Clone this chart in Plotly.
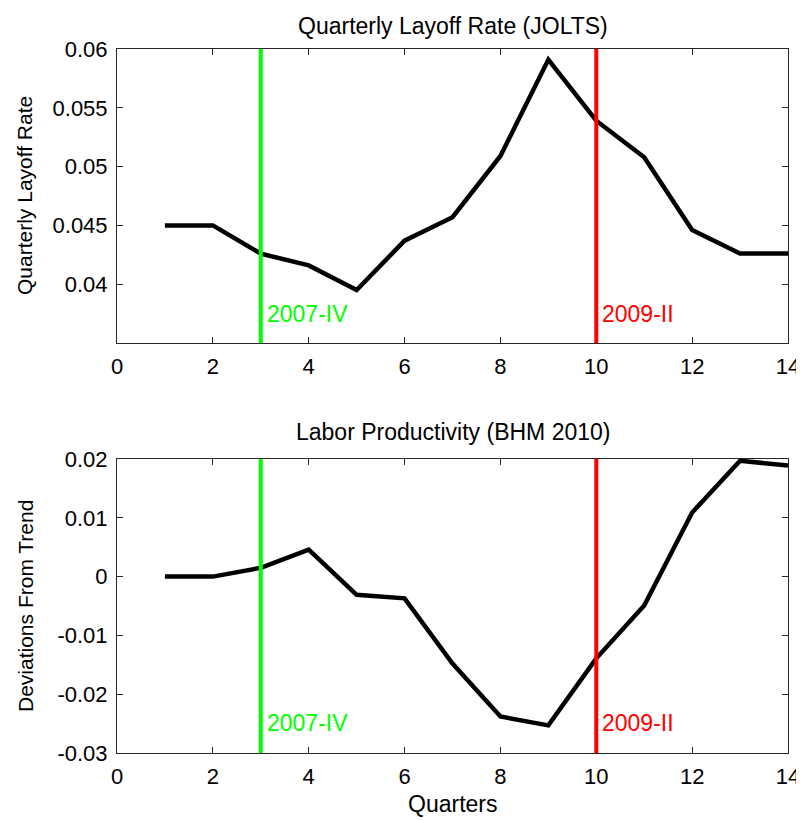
import plotly.graph_objects as go
from plotly.subplots import make_subplots

quarters = list(range(1, 15))
layoff_rate = [0.0450, 0.0450, 0.0426, 0.0416, 0.0395, 0.0437, 0.0457, 0.0509,
               0.0591, 0.0539, 0.0508, 0.0446, 0.0426, 0.0426]
productivity = [0.0000, 0.0000, 0.0015, 0.0046, -0.0031, -0.0037, -0.0148, -0.0238,
                -0.0253, -0.0139, -0.0049, 0.0109, 0.0197, 0.0189]

event_x = [3, 10]
event_labels = ["2007-IV", "2009-II"]
event_colors = ["#00FF00", "#FF0000"]

top_title = "Quarterly Layoff Rate (JOLTS)"
bottom_title = "Labor Productivity (BHM 2010)"
top_ylabel = "Quarterly Layoff Rate"
bottom_ylabel = "Deviations From Trend"
xlabel = "Quarters"

top_range = [0.035, 0.06]
bottom_range = [-0.03, 0.02]
top_ticks = [0.04, 0.045, 0.05, 0.055, 0.06]
top_ticktext = ["0.04", "0.045", "0.05", "0.055", "0.06"]
bottom_ticks = [-0.03, -0.02, -0.01, 0, 0.01, 0.02]
bottom_ticktext = ["-0.03", "-0.02", "-0.01", "0", "0.01", "0.02"]
x_ticks = list(range(0, 15, 2))
top_label_y = 0.0375
bottom_label_y = -0.0249

FONT = "Liberation Sans"
AX = "#262626"
TOP_DOM = [0.5824, 1.0]
BOT_DOM = [0.0, 0.4176]

# page body has an 8px margin, so the figure is 8px smaller and margins shifted
fig = make_subplots(rows=2, cols=1, vertical_spacing=0.1648)
fig.update_layout(
    template="none",
    width=796, height=812,
    margin=dict(l=109, r=16, t=41, b=67, pad=0),
    paper_bgcolor="white", plot_bgcolor="white",
    showlegend=False,
    font=dict(family=FONT, color="black", size=22),
)
fig.layout.yaxis.domain = TOP_DOM
fig.layout.yaxis2.domain = BOT_DOM

fig.add_trace(go.Scatter(x=quarters, y=layoff_rate, mode="lines",
                         line=dict(color="black", width=4.5)), row=1, col=1)
fig.add_trace(go.Scatter(x=quarters, y=productivity, mode="lines",
                         line=dict(color="black", width=4.5)), row=2, col=1)

for r, ly in ((1, top_label_y), (2, bottom_label_y)):
    for ex, lab, col in zip(event_x, event_labels, event_colors):
        fig.add_vline(x=ex, line=dict(color=col, width=4), row=r, col=1)
        fig.add_annotation(x=ex, y=ly, text=lab, showarrow=False, xanchor="left",
                           yanchor="middle", xshift=4,
                           font=dict(color=col, size=23, family=FONT), row=r, col=1)

axis_common = dict(showline=True, linecolor=AX, linewidth=1, mirror="ticks",
                   ticks="inside", ticklen=6, tickcolor=AX, tickwidth=1, showgrid=False,
                   zeroline=False, automargin=False,
                   tickfont=dict(size=22, family=FONT, color="black"))

fig.update_xaxes(range=[0, 14], tickvals=x_ticks, ticklabelstandoff=4, **axis_common)
fig.update_yaxes(range=top_range, tickvals=top_ticks, ticktext=top_ticktext,
                 ticklabelstandoff=4, row=1, col=1, **axis_common)
fig.update_yaxes(range=bottom_range, tickvals=bottom_ticks, ticktext=bottom_ticktext,
                 ticklabelstandoff=4, row=2, col=1, **axis_common)

# panel titles
fig.add_annotation(x=0.5, y=TOP_DOM[1], xref="paper", yref="paper", text=top_title,
                   showarrow=False, yanchor="middle", yshift=23, font=dict(size=23, family=FONT))
fig.add_annotation(x=0.5, y=BOT_DOM[1], xref="paper", yref="paper", text=bottom_title,
                   showarrow=False, yanchor="middle", yshift=27, font=dict(size=23, family=FONT))
# axis titles
fig.add_annotation(x=0, y=(TOP_DOM[0] + TOP_DOM[1]) / 2, xref="paper", yref="paper",
                   text=top_ylabel, textangle=-90, showarrow=False, xanchor="center",
                   yanchor="middle", xshift=-92, font=dict(size=21, family=FONT))
fig.add_annotation(x=0, y=(BOT_DOM[0] + BOT_DOM[1]) / 2, xref="paper", yref="paper",
                   text=bottom_ylabel, textangle=-90, showarrow=False, xanchor="center",
                   yanchor="middle", xshift=-92, font=dict(size=21, family=FONT))
fig.add_annotation(x=0.5, y=0, xref="paper", yref="paper", text=xlabel, showarrow=False,
                   yanchor="middle", yshift=-51, font=dict(size=23, family=FONT))

fig.write_html("out.html")
